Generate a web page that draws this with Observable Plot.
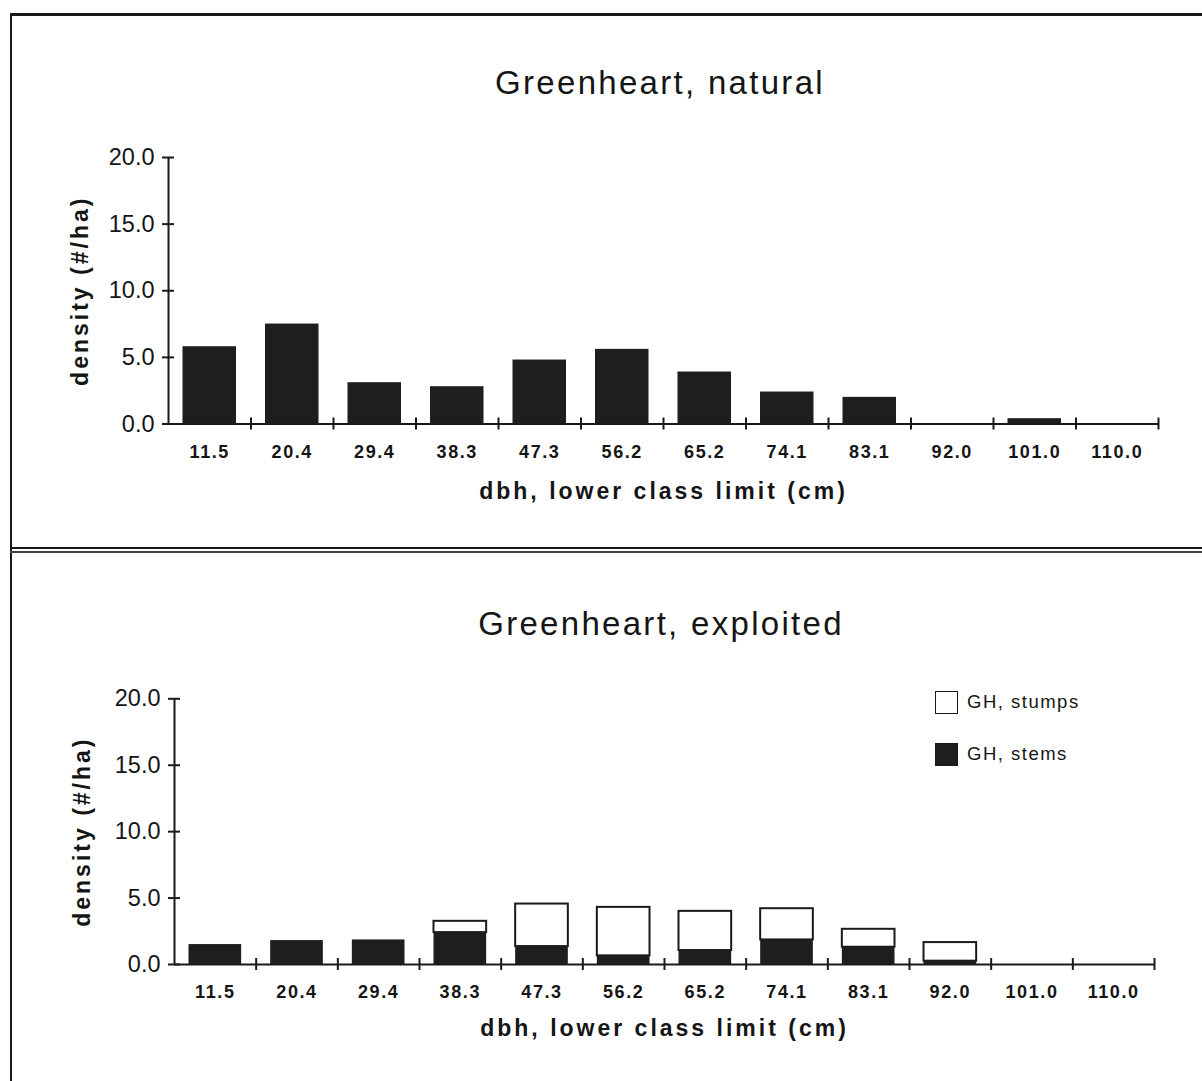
<!DOCTYPE html>
<html>
<head>
<meta charset="utf-8">
<script src="https://cdn.jsdelivr.net/npm/d3@7"></script>
<script src="https://cdn.jsdelivr.net/npm/@observablehq/plot@0.6"></script>
<style>
  body { margin: 0; background: #fff; }
  #page { position: relative; width: 1202px; height: 1081px; overflow: hidden; background: #fff;
          font-family: "Liberation Sans", Arial, sans-serif; color: #151515; }
  .line { position: absolute; background: #1a1a1a; }
  .title { position: absolute; font-size: 33px; letter-spacing: 2.3px; white-space: nowrap;
           transform: translate(-50%, -50%); color: #151515; }
  .plot { position: absolute; left: 0; }
  .plot svg text { fill: #151515; }
  .plot g[aria-label="x-axis tick label"] text { letter-spacing: 1.6px; }
  .plot g[aria-label="text"] text { letter-spacing: 3px; }
  .legend-item { position: absolute; display: flex; align-items: center; font-size: 18.5px;
                 letter-spacing: 1.5px; white-space: nowrap; }
  .swatch { width: 21px; height: 21px; border: 1.5px solid #1a1a1a; margin-right: 9px; box-sizing: content-box; }
</style>
</head>
<body>
<div id="page">
  <div class="line" style="left:10px; top:13px; width:1192px; height:3px;"></div>
  <div class="line" style="left:10px; top:13px; width:2px; height:1068px;"></div>
  <div class="line" style="left:10px; top:547px; width:1192px; height:2px;"></div>
  <div class="line" style="left:10px; top:551px; width:1192px; height:2px; background:#444;"></div>
  <div class="title" id="t1" style="left:660px; top:83px;"></div>
  <div class="title" id="t2" style="left:661px; top:624px;"></div>
  <div class="plot" id="p1" style="top:120px;"></div>
  <div class="plot" id="p2" style="top:660px;"></div>
  <div class="legend-item" style="left:935px; top:690px; height:24px;">
    <div class="swatch" style="background:#fff;"></div><span id="l1"></span>
  </div>
  <div class="legend-item" style="left:935px; top:742px; height:24px;">
    <div class="swatch" style="background:#1e1e1e;"></div><span id="l2"></span>
  </div>
</div>
<script>
// ---- data ----
const dbhClasses = ["11.5","20.4","29.4","38.3","47.3","56.2","65.2","74.1","83.1","92.0","101.0","110.0"];
const naturalDensity = [5.8, 7.5, 3.1, 2.8, 4.8, 5.6, 3.9, 2.4, 2.0, 0, 0.4, 0];
const exploitedStems = [1.5, 1.8, 1.85, 2.4, 1.35, 0.65, 1.05, 1.85, 1.3, 0.25, 0, 0];
const exploitedStumps = [0, 0, 0, 0.85, 3.2, 3.65, 2.95, 2.35, 1.35, 1.4, 0, 0];
const yTicks = [0, 5, 10, 15, 20];
const titles = ["Greenheart, natural", "Greenheart, exploited"];
const xTitle = "dbh, lower class limit (cm)";
const yTitle = "density (#/ha)";
const seriesNames = ["GH, stumps", "GH, stems"];

document.getElementById("t1").textContent = titles[0];
document.getElementById("t2").textContent = titles[1];
document.getElementById("l1").textContent = seriesNames[0];
document.getElementById("l2").textContent = seriesNames[1];

const natural = dbhClasses.map((c, i) => ({i, cls: c, v: naturalDensity[i]}));
const exploited = dbhClasses.map((c, i) => ({i, cls: c, stems: exploitedStems[i], stumps: exploitedStumps[i]}));
const centers = dbhClasses.map((c, i) => i + 0.5);
const boundaries = dbhClasses.map((c, i) => i + 1);

const ink = "#1a1a1a";
const barFill = "#1e1e1e";
const font = "'Liberation Sans', Arial, sans-serif";

function frameMarks(yTitleDx, xTitleDy) {
  return [
    Plot.ruleY([0], {stroke: ink, strokeWidth: 2}),
    Plot.ruleX([0], {y1: 0, y2: 20, stroke: ink, strokeWidth: 2}),
    Plot.ruleY(yTicks, {x1: 0, x2: 0, insetLeft: -6, insetRight: -6, stroke: ink, strokeWidth: 2}),
    Plot.ruleX(boundaries, {y1: 0, y2: 0, insetTop: -6, insetBottom: -6, stroke: ink, strokeWidth: 2}),
    Plot.axisY({ticks: yTicks, tickSize: 0, tickPadding: 14, tickFormat: d3.format(".1f"),
                fontSize: 23.5, label: null}),
    Plot.axisX({ticks: centers, tickSize: 0, tickPadding: 21, tickFormat: v => dbhClasses[Math.floor(v)],
                fontSize: 18, fontWeight: "bold", label: null}),
    Plot.text([xTitle], {text: d => d, frameAnchor: "bottom", dy: xTitleDy, fontSize: 23, fontWeight: "bold"}),
    Plot.text([yTitle], {text: d => d, frameAnchor: "left", textAnchor: "middle", dx: yTitleDx, rotate: -90,
                         fontSize: 23, fontWeight: "bold"})
  ];
}

const common = {
  width: 1202,
  x: {domain: [0, 12]},
  y: {domain: [0, 20]},
  style: {fontFamily: font, background: "transparent", overflow: "visible", color: "#151515"}
};

const p1 = Plot.plot({
  ...common,
  height: 420, marginTop: 37, marginBottom: 116.5, marginLeft: 168, marginRight: 44,
  marks: [
    Plot.rectY(natural.filter(d => d.v > 0), {x1: d => d.i, x2: d => d.i + 1, y1: 0, y2: "v",
      fill: barFill, insetLeft: 14.5, insetRight: 14.5}),
    ...frameMarks(-88, 74.5)
  ]
});
document.getElementById("p1").appendChild(p1);

const p2 = Plot.plot({
  ...common,
  height: 421, marginTop: 38.3, marginBottom: 117, marginLeft: 174, marginRight: 48,
  marks: [
    Plot.rectY(exploited.filter(d => d.stumps > 0), {x1: d => d.i, x2: d => d.i + 1,
      y1: "stems", y2: d => d.stems + d.stumps,
      fill: "#fff", stroke: ink, strokeWidth: 2, insetLeft: 14.5, insetRight: 14.5}),
    Plot.rectY(exploited.filter(d => d.stems > 0), {x1: d => d.i, x2: d => d.i + 1, y1: 0, y2: "stems",
      fill: barFill, insetLeft: 14.5, insetRight: 14.5}),
    ...frameMarks(-92, 71)
  ]
});
document.getElementById("p2").appendChild(p2);
</script>
</body>
</html>
